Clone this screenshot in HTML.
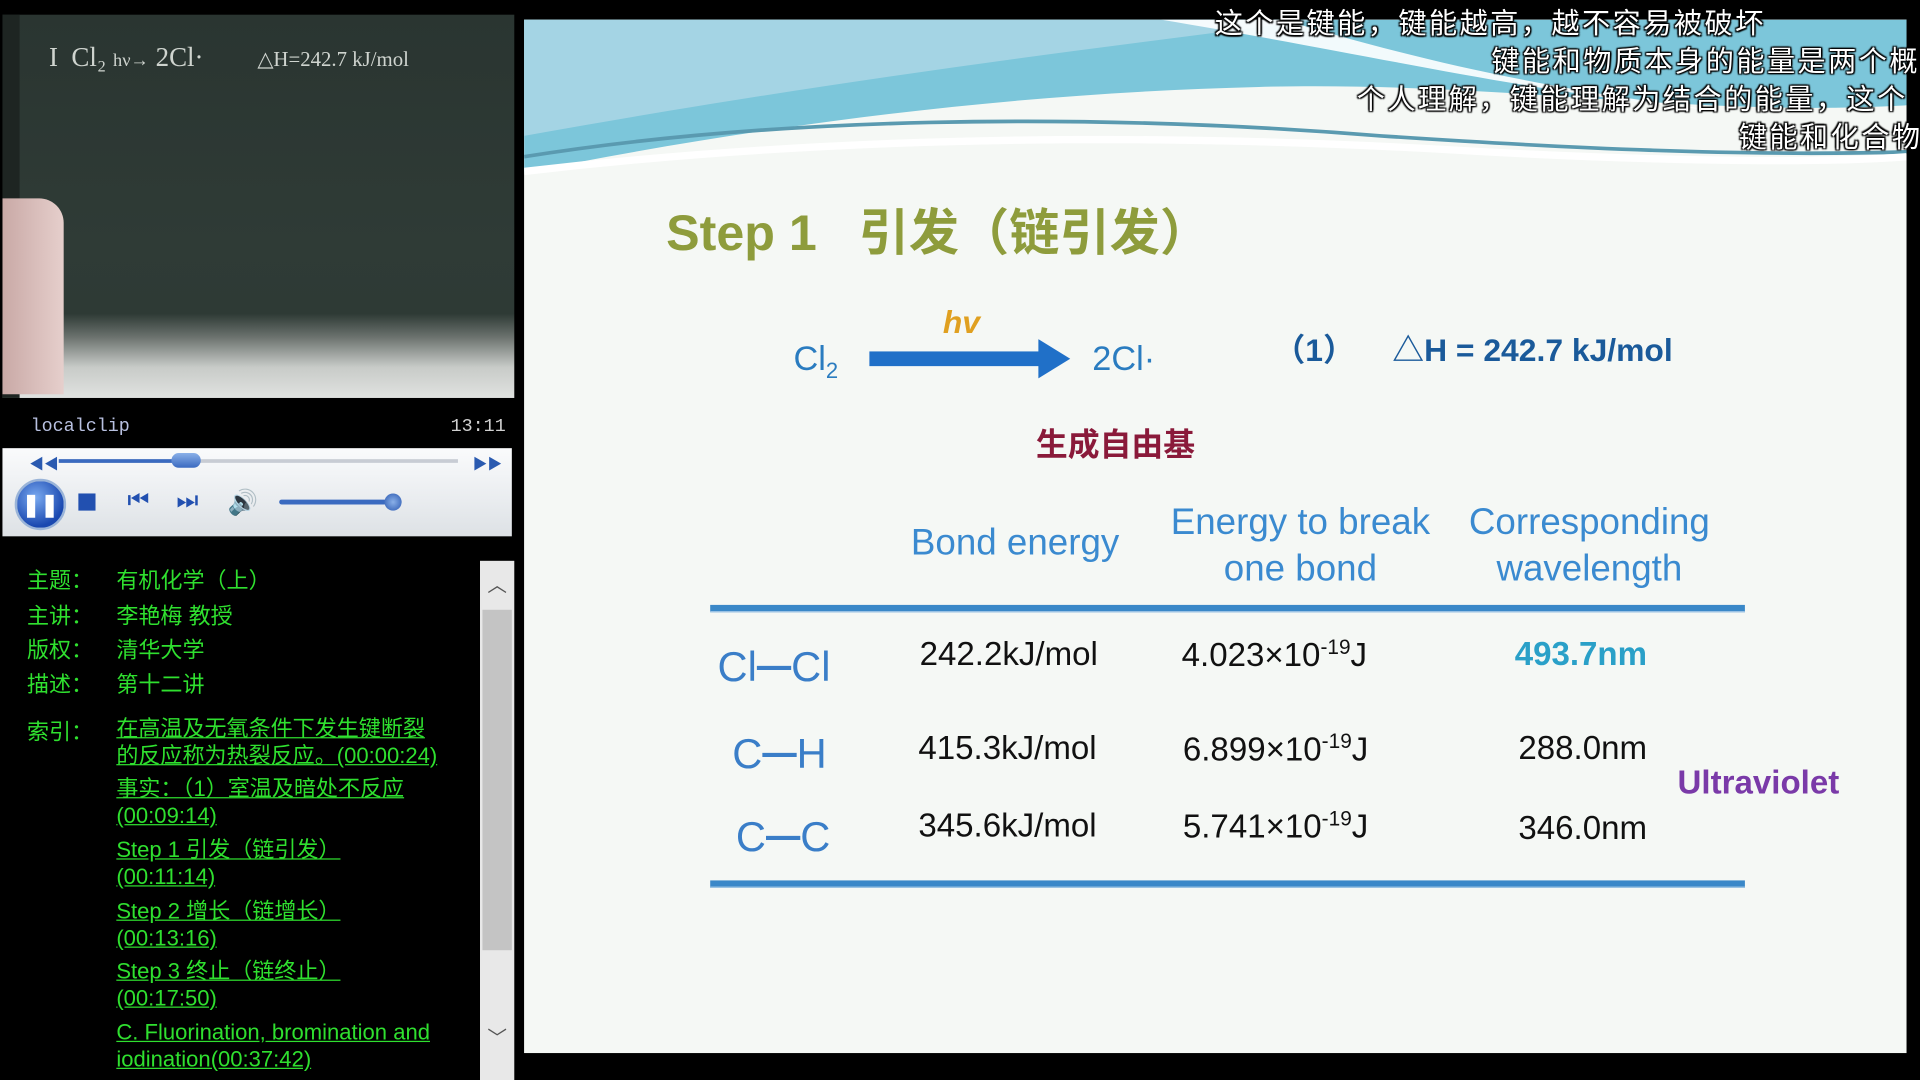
<!DOCTYPE html>
<html><head><meta charset="utf-8">
<style>
html,body{margin:0;padding:0;background:#000;width:1920px;height:1080px;overflow:hidden}
#stage{position:absolute;left:0;top:0;width:1568px;height:882px;transform:scale(1.22449);transform-origin:0 0;background:#000;font-family:"Liberation Sans","Noto Sans CJK SC",sans-serif}
.abs{position:absolute;white-space:nowrap}
.sub{color:#fff;font-size:23px;letter-spacing:2px;font-family:"Noto Sans CJK SC",sans-serif;text-shadow:0 0 2px #000,1px 1px 1px #000,-1px -1px 1px #000,1px -1px 1px #000,-1px 1px 1px #000}
.g{color:#2fe02f;font-size:18px;font-family:"Liberation Sans","Noto Sans CJK SC",sans-serif}
.lnk{text-decoration:underline}
.hd{color:#3a8ad0;font-size:30px;text-align:center;line-height:38px}
.v{color:#111;font-size:27px}
.lab{color:#3a7ec8;font-size:34px}
</style></head><body>
<div id="stage">
  <div class="abs" style="left:2px;top:12px;width:418px;height:313px;background:linear-gradient(180deg,#2a3531 0%,#2f3b36 60%,#2e3a35 78%,#6a716d 84%,#c8cbc8 92%,#e0e2e0 100%);overflow:hidden">
    <div class="abs" style="left:0;top:0;width:14px;height:313px;background:#1e2522"></div>
    <div class="abs" style="left:38px;top:22px;color:#cfd4cf;font-size:22px;font-family:'Liberation Serif',serif">I &nbsp;Cl₂ <span style="font-size:15px">hν→</span> 2Cl· &nbsp;&nbsp;&nbsp;&nbsp;&nbsp;&nbsp; <span style="font-size:17px">△H=242.7 kJ/mol</span></div>
    <div class="abs" style="left:0;top:150px;width:50px;height:160px;background:linear-gradient(90deg,#c9a9a6,#e6cfcc);border-radius:0 20px 0 0"></div>
  </div>
  <div class="abs" style="left:25px;top:340px;color:#b8c0e0;font-family:'Liberation Mono',monospace;font-size:15px">localclip</div>
  <div class="abs" style="left:368px;top:340px;color:#d0d0d0;font-family:'Liberation Mono',monospace;font-size:15px">13:11</div>
  <div class="abs" style="left:2px;top:366px;width:416px;height:72px;background:linear-gradient(180deg,#fafbfc,#e9ecef 60%,#dde1e5);">
    <div class="abs" style="left:22px;top:4px;color:#2a5ab0;font-size:12px">◀◀</div>
    <div class="abs" style="left:384px;top:4px;color:#2a5ab0;font-size:12px">▶▶</div>
    <div class="abs" style="left:46px;top:9px;width:326px;height:3px;background:#c8ccd4"></div>
    <div class="abs" style="left:46px;top:9px;width:110px;height:3px;background:#3a6ac0"></div>
    <div class="abs" style="left:138px;top:4px;width:24px;height:12px;border-radius:6px;background:linear-gradient(#8ab0e8,#3a6ac0)"></div>
    <div class="abs" style="left:10px;top:25px;width:38px;height:38px;border-radius:50%;background:radial-gradient(circle at 40% 35%,#7aaaf0,#1a48b0 70%);border:2px solid #9ab4d8;color:#fff;font-size:18px;font-weight:bold;text-align:center;line-height:38px">❚❚</div>
    <div class="abs" style="left:62px;top:37px;width:14px;height:14px;background:#2250b0"></div>
    <div class="abs" style="left:102px;top:32px;color:#2250b0;font-size:20px">⏮</div>
    <div class="abs" style="left:142px;top:32px;color:#2250b0;font-size:20px">⏭</div>
    <div class="abs" style="left:184px;top:32px;color:#2250b0;font-size:20px">🔊</div>
    <div class="abs" style="left:226px;top:42px;width:100px;height:4px;background:#3a6ac0;border-radius:2px"></div>
    <div class="abs" style="left:312px;top:37px;width:14px;height:14px;border-radius:50%;background:radial-gradient(#8ab0e8,#2a58b0)"></div>
  </div>
  <div class="abs" style="left:2px;top:440px;width:390px;height:442px;background:#000">
    <div class="abs g" style="left:20px;top:20px">主题：</div><div class="abs g" style="left:93px;top:20px">有机化学（上）</div>
    <div class="abs g" style="left:20px;top:49px">主讲：</div><div class="abs g" style="left:93px;top:49px">李艳梅 教授</div>
    <div class="abs g" style="left:20px;top:77px">版权：</div><div class="abs g" style="left:93px;top:77px">清华大学</div>
    <div class="abs g" style="left:20px;top:105px">描述：</div><div class="abs g" style="left:93px;top:105px">第十二讲</div>
    <div class="abs g" style="left:20px;top:144px">索引：</div>
    <div class="abs g lnk" style="left:93px;top:144px;line-height:22px">在高温及无氧条件下发生键断裂<br>的反应称为热裂反应。(00:00:24)</div>
    <div class="abs g lnk" style="left:93px;top:193px;line-height:22px">事实：（1）室温及暗处不反应<br>(00:09:14)</div>
    <div class="abs g lnk" style="left:93px;top:243px;line-height:22px">Step 1 引发（链引发）<br>(00:11:14)</div>
    <div class="abs g lnk" style="left:93px;top:293px;line-height:22px">Step 2 增长（链增长）<br>(00:13:16)</div>
    <div class="abs g lnk" style="left:93px;top:342px;line-height:22px">Step 3 终止（链终止）<br>(00:17:50)</div>
    <div class="abs g lnk" style="left:93px;top:392px;line-height:22px">C. Fluorination, bromination and<br>iodination(00:37:42)</div>
  </div>
  <div class="abs" style="left:392px;top:458px;width:28px;height:424px;background:#e8e8e8">
    <div class="abs" style="left:6px;top:6px;color:#555;font-size:16px">︿</div>
    <div class="abs" style="left:2px;top:40px;width:24px;height:278px;background:#c4c4c4"></div>
    <div class="abs" style="left:6px;top:376px;color:#555;font-size:16px">﹀</div>
  </div>
  <div class="abs" style="left:428px;top:16px;width:1129px;height:844px;background:#f5f8f5;overflow:hidden">
    <svg class="abs" style="left:0;top:0" width="1129" height="150">
      <path d="M0 0 H1129 V70 C950 80 800 50 600 55 C400 60 200 85 0 125 Z" fill="#7cc6da"/>
      <path d="M0 0 H650 C450 25 250 50 0 95 Z" fill="#a4d4e4"/>
      <path d="M520 0 C700 30 820 60 980 75 C820 55 720 30 620 0 Z" fill="#ffffff" opacity="0.9"/>
      <path d="M0 112 C200 80 450 75 700 95 C850 105 1000 112 1129 108" stroke="#5a9ab0" stroke-width="3" fill="none"/>
      <path d="M0 124 C250 95 500 92 750 106 C900 115 1050 118 1129 112" stroke="#ffffff" stroke-width="6" fill="none"/>
    </svg>
  </div>
  <div class="abs" style="left:544px;top:156px;color:#8e9c3c;font-size:41px;font-weight:bold">Step 1 &nbsp;&nbsp;引发（链引发）</div>
  <div class="abs" style="left:648px;top:277px;color:#2a7cc0;font-size:28px">Cl<sub style="font-size:18px">2</sub></div>
  <div class="abs" style="left:770px;top:248px;color:#e0a020;font-size:26px;font-style:italic;font-weight:bold">hv</div>
  <svg class="abs" style="left:708px;top:277px" width="170" height="34"><rect x="2" y="10" width="140" height="12" fill="#2070c8"/><polygon points="140,0 166,16 140,32" fill="#2070c8"/></svg>
  <div class="abs" style="left:892px;top:277px;color:#2a7cc0;font-size:28px">2Cl·</div>
  <div class="abs" style="left:1040px;top:266px;color:#1a5a9a;font-size:26px;font-weight:bold">（1）</div>
  <div class="abs" style="left:1137px;top:266px;color:#1a5a9a;font-size:26px;font-weight:bold">△H = 242.7 kJ/mol</div>
  <div class="abs" style="left:846px;top:343px;color:#8a1a3a;font-size:26px;font-weight:bold;font-family:'Noto Sans CJK SC',sans-serif">生成自由基</div>

  <div class="abs hd" style="left:729px;top:425px;width:200px">Bond energy</div>
  <div class="abs hd" style="left:932px;top:408px;width:260px">Energy to break<br>one bond</div>
  <div class="abs hd" style="left:1168px;top:408px;width:260px">Corresponding<br>wavelength</div>
  <div class="abs" style="left:580px;top:494px;width:845px;height:5px;background:#3a88c8;border-bottom:1px solid #9cc4e4"></div>
  <div class="abs" style="left:580px;top:719px;width:845px;height:5px;background:#3a88c8;border-bottom:1px solid #9cc4e4"></div>

  <div class="abs lab" style="left:586px;top:525px">Cl<b style="font-size:28px">━</b>Cl</div>
  <div class="abs v" style="left:751px;top:519px">242.2kJ/mol</div>
  <div class="abs v" style="left:965px;top:519px">4.023×10<sup style="font-size:17px">-19</sup>J</div>
  <div class="abs" style="left:1237px;top:519px;color:#2aa0c8;font-size:27px;font-weight:bold">493.7nm</div>

  <div class="abs lab" style="left:598px;top:596px">C<b style="font-size:28px">━</b>H</div>
  <div class="abs v" style="left:750px;top:596px">415.3kJ/mol</div>
  <div class="abs v" style="left:966px;top:596px">6.899×10<sup style="font-size:17px">-19</sup>J</div>
  <div class="abs v" style="left:1240px;top:596px">288.0nm</div>

  <div class="abs lab" style="left:601px;top:664px">C<b style="font-size:28px">━</b>C</div>
  <div class="abs v" style="left:750px;top:659px">345.6kJ/mol</div>
  <div class="abs v" style="left:966px;top:659px">5.741×10<sup style="font-size:17px">-19</sup>J</div>
  <div class="abs v" style="left:1240px;top:661px">346.0nm</div>

  <div class="abs" style="left:1370px;top:624px;color:#7a3aa8;font-size:27px;font-weight:bold">Ultraviolet</div>

  <div class="abs sub" style="left:992px;top:0px">这个是键能，键能越高，越不容易被破坏</div>
  <div class="abs sub" style="left:1218px;top:31px">键能和物质本身的能量是两个概念</div>
  <div class="abs sub" style="left:1108px;top:62px">个人理解，键能理解为结合的能量，这个</div>
  <div class="abs sub" style="left:1420px;top:93px">键能和化合物</div>
</div>
</body></html>
